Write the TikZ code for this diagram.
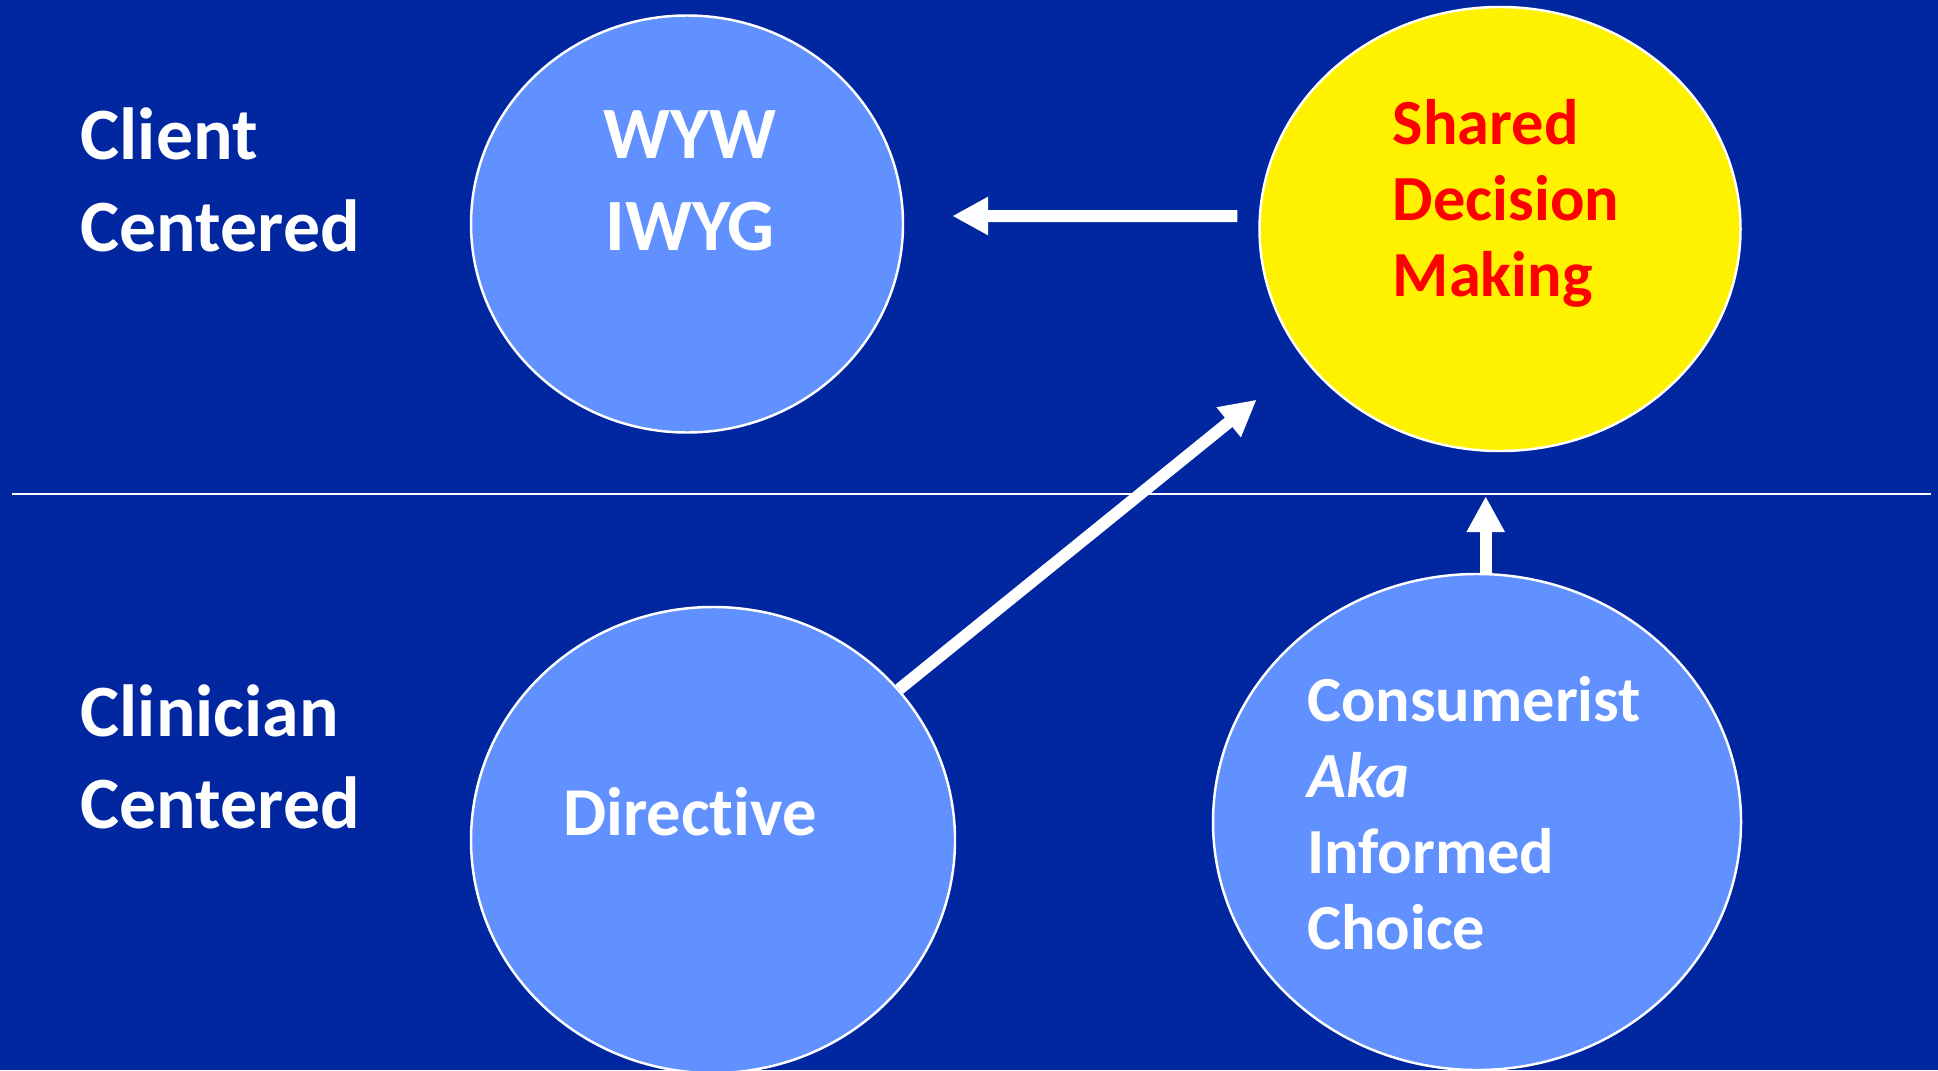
\documentclass[tikz,border=0pt]{standalone}
\usepackage{fontspec}
\setmainfont{Carlito}[Ligatures=NoCommon]
\usetikzlibrary{positioning,arrows.meta,shapes.geometric}

\definecolor{slideblue}{RGB}{0,38,160}
\definecolor{bubbleblue}{RGB}{97,144,255}
\definecolor{sdmred}{RGB}{255,0,0}

\begin{document}
\begin{tikzpicture}[
    bubble/.style={
        ellipse, draw=white, line width=0.7pt, fill=bubbleblue, inner sep=0pt
    },
    side/.style={
        text=white, align=left, anchor=west, inner sep=0pt,
        font=\fontsize{21}{26}\selectfont\bfseries
    },
    inside/.style={
        text=white, inner sep=0pt, font=\fontsize{18.3}{21.6}\selectfont\bfseries
    },
    bigarrow/.style={
        draw=white, line width=1.2mm, -{Triangle[length=3.6mm, width=3.6mm]}
    }
]

% Slide background
\useasboundingbox (0,0) rectangle (19.38,10.7);
\clip (0,0) rectangle (19.38,10.7);
\fill[slideblue] (0,0) rectangle (19.38,10.7);

% Divider between the two rows
\coordinate (divl) at (0.12,5.76);
\coordinate (divr) at (19.31,5.76);
\draw[white, line width=0.8pt] (divl) -- (divr);

% Row labels
\node[side] (client) at (0.80,8.90) {Client\\Centered};
\node[side] (clinician) at (0.80,3.13) {Clinician\\Centered};

% Top row
\node[bubble, minimum width=4.32cm, minimum height=4.17cm] (wyw) at (6.87,8.46) {};
\node[bubble, fill=yellow, minimum width=4.81cm, minimum height=4.44cm] (shared) at (15.00,8.41) {};

% Bottom row
\node[bubble, minimum width=4.84cm, minimum height=4.66cm] (directive) at (7.13,2.30) {};
\node[bubble, minimum width=5.28cm, minimum height=4.96cm] (consumerist) at (14.77,2.48) {};

% Texts in the bubbles
\node[inside, align=center, font=\fontsize{21}{26}\selectfont\bfseries, below=0.96cm of wyw.north, xshift=0.03cm] (wywtext) {WYW\\IWYG};
\node[inside, text=sdmred, align=left, below=0.93cm of shared.north, xshift=0.06cm] (sharedtext) {Shared\\Decision\\Making};
\node[inside, font=\fontsize{19.5}{22}\selectfont\bfseries] (directivetext) at ([shift={(-0.23,0.28)}]directive.center) {Directive};
\node[inside, align=left, below=1.03cm of consumerist.north, xshift=-0.03cm] (consumertext) {Consumerist\\\textit{Aka}\\Informed\\Choice};

% Arrows
\draw[bigarrow, shorten <=0.21cm, shorten >=0.48cm] ([yshift=1.3mm]shared.west) -- ([yshift=0.8mm]wyw.east);
\draw[bigarrow, shorten >=0.62cm] (directive.39) -- (shared.214);
\draw[bigarrow, shorten >=0.44cm] (consumerist.88) -- (consumerist.88 |- shared.south);

\end{tikzpicture}
\end{document}
